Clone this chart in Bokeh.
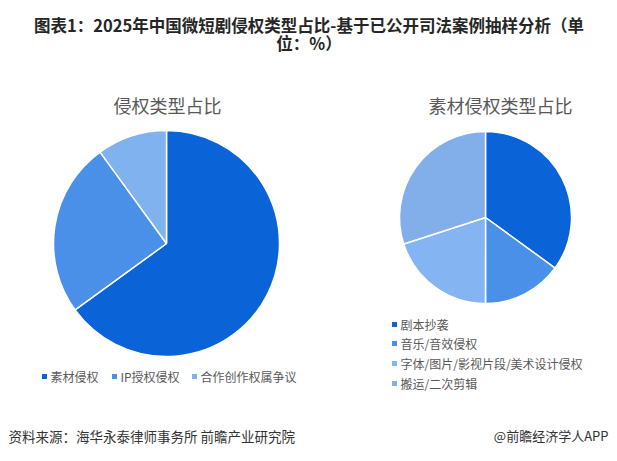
import numpy as np
from bokeh.plotting import figure
from bokeh.models import Range1d, ColumnDataSource
from bokeh.core.properties import value
from bokeh.embed import file_html
from bokeh.resources import INLINE

# ---------------- data ----------------
title_line1 = "图表1：2025年中国微短剧侵权类型占比-基于已公开司法案例抽样分析（单"
title_line2 = "位：%）"

left_title = "侵权类型占比"
left_labels = ["素材侵权", "IP授权侵权", "合作创作权属争议"]
left_values = [65, 25, 10]
left_colors = ["#0B63D8", "#4A90E8", "#80B2EF"]

right_title = "素材侵权类型占比"
right_labels = ["剧本抄袭", "音乐/音效侵权", "字体/图片/影视片段/美术设计侵权", "搬运/二次剪辑"]
right_values = [35, 15, 20, 30]
right_colors = ["#0B63D8", "#4A90E8", "#84B5F2", "#82AFEA"]

source_text = "资料来源：海华永泰律师事务所  前瞻产业研究院"
credit_text = "@前瞻经济学人APP"

FONT = "Noto Sans CJK SC"
W, H = 609, 453
PAGE_H = 461


def py(page_y):
    # convert a page pixel row to data y
    return PAGE_H - page_y


p = figure(width=W, height=H, x_range=Range1d(0, W), y_range=Range1d(PAGE_H - H, PAGE_H),
           output_backend="svg", toolbar_location=None,
           x_axis_type=None, y_axis_type=None, min_border=0)
p.outline_line_color = None
p.xgrid.visible = False
p.ygrid.visible = False
p.background_fill_color = "white"
p.border_fill_color = "white"


def pie(cx, cy, r, values, colors):
    vals = np.array(values, dtype=float)
    frac = vals / vals.sum()
    cum = np.concatenate([[0], np.cumsum(frac)])
    starts = np.pi / 2 - 2 * np.pi * cum[:-1]
    ends = np.pi / 2 - 2 * np.pi * cum[1:]
    src = ColumnDataSource(dict(x=[cx] * len(vals), y=[cy] * len(vals),
                                start=starts, end=ends, color=colors))
    p.wedge(x="x", y="y", radius=r, start_angle="start", end_angle="end",
            direction="clock", fill_color="color", line_color="white",
            line_width=1.5, source=src)


# title
p.text(x=[308.5], y=[py(24)], text=[title_line1], text_font=value(FONT),
       text_font_style="bold", text_font_size="16.5px", text_color="#262626",
       text_align="center", text_baseline="middle")
p.text(x=[308.5], y=[py(42)], text=[title_line2], text_font=value(FONT),
       text_font_style="bold", text_font_size="16.5px", text_color="#262626",
       text_align="center", text_baseline="middle")

# left pie
pie(166, py(243), 113, left_values, left_colors)
p.text(x=[167], y=[py(104)], text=[left_title], text_font=value(FONT),
       text_font_size="18px", text_color="#595959",
       text_align="center", text_baseline="middle")
lx = [44, 114, 194]
p.scatter(x=lx, y=[py(376)] * 3, marker="square", size=5,
          fill_color=left_colors, line_color=None)
p.text(x=[v + 6 for v in lx], y=[py(376)] * 3, text=left_labels,
       text_font=value(FONT), text_font_size="12px", text_color="#595959",
       text_align="left", text_baseline="middle")

# right pie
pie(485, py(217), 86, right_values, right_colors)
p.text(x=[500], y=[py(104)], text=[right_title], text_font=value(FONT),
       text_font_size="18px", text_color="#595959",
       text_align="center", text_baseline="middle")
ry = [py(v) for v in [324, 343, 363, 383]]
p.scatter(x=[394] * 4, y=ry, marker="square", size=5,
          fill_color=right_colors, line_color=None)
p.text(x=[400] * 4, y=ry, text=right_labels,
       text_font=value(FONT), text_font_size="12px", text_color="#595959",
       text_align="left", text_baseline="middle")

# footer
p.text(x=[8], y=[py(435)], text=[source_text], text_font=value(FONT),
       text_font_size="13.5px", text_color="#333333",
       text_align="left", text_baseline="middle")
p.text(x=[608], y=[py(435)], text=[credit_text], text_font=value(FONT),
       text_font_size="13px", text_color="#333333",
       text_align="right", text_baseline="middle")

open("out.html", "w").write(file_html(p, INLINE))
